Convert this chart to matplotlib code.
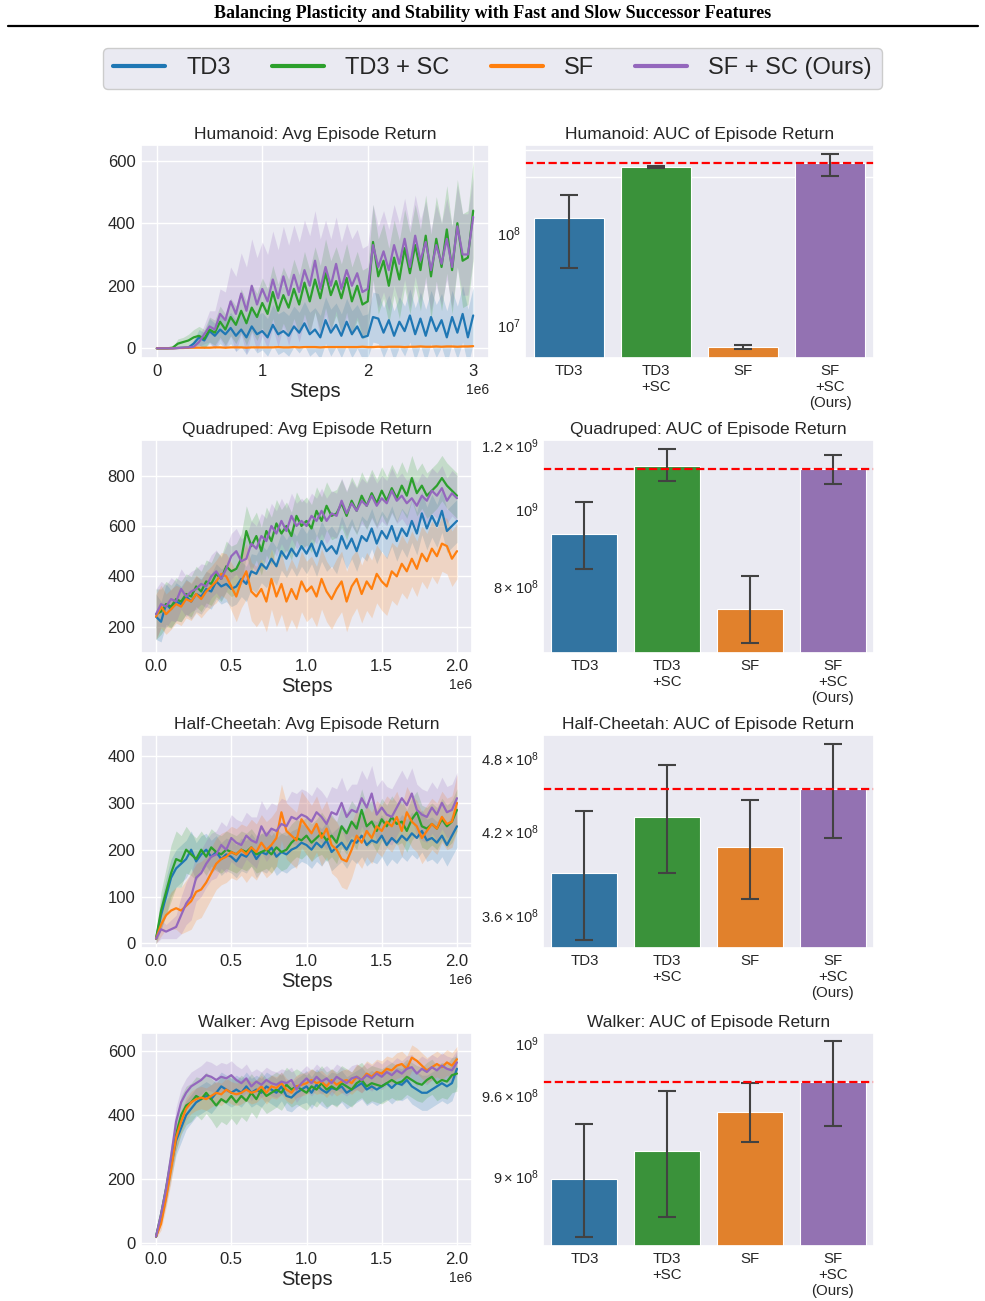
import numpy as np
import seaborn as sns
import matplotlib.pyplot as plt
from matplotlib.lines import Line2D
from matplotlib.ticker import FixedLocator, FixedFormatter, NullFormatter

# ---------------- data ----------------
methods = ['TD3', 'TD3 + SC', 'SF', 'SF + SC (Ours)']
bar_labels = ['TD3', 'TD3\n+SC', 'SF', 'SF\n+SC\n(Ours)']

# Humanoid (0 .. 3e6 steps)
humanoid_td3 = [0, 0, 0, 0, 1, 2, 3, 15, 35, 25,
                55, 40, 60, 45, 65, 40, 60, 35, 70, 45,
                55, 35, 75, 45, 55, 40, 70, 50, 80, 45,
                60, 35, 90, 50, 75, 40, 85, 45, 70, 35,
                40, 100, 95, 50, 90, 40, 85, 55, 105, 45,
                95, 40, 100, 55, 90, 35, 100, 50, 110, 35,
                105]
humanoid_td3_sd = [0, 0, 0, 0, 1, 2, 3, 12, 25, 25,
                   40, 40, 45, 45, 50, 50, 55, 55, 60, 60,
                   60, 60, 65, 65, 65, 65, 65, 65, 70, 70,
                   70, 70, 75, 75, 70, 70, 75, 75, 70, 70,
                   70, 80, 80, 80, 80, 80, 80, 80, 85, 85,
                   85, 85, 85, 85, 85, 85, 85, 85, 90, 90,
                   90]
humanoid_td3_sc = [0, 0, 0, 2, 15, 20, 25, 35, 40, 30,
                   60, 50, 85, 60, 100, 75, 120, 80, 130, 100,
                   145, 110, 180, 120, 170, 130, 190, 140, 210, 150,
                   220, 160, 240, 170, 215, 160, 225, 150, 200, 140,
                   150, 340, 230, 280, 200, 290, 220, 320, 240, 330,
                   250, 360, 230, 350, 260, 380, 250, 400, 280, 290,
                   440]
humanoid_td3_sc_sd = [0, 0, 0, 2, 15, 15, 20, 25, 30, 30,
                      40, 40, 50, 50, 60, 60, 70, 70, 75, 75,
                      80, 80, 85, 85, 90, 90, 95, 95, 100, 100,
                      105, 105, 110, 110, 110, 110, 110, 110, 110, 110,
                      110, 120, 120, 120, 120, 120, 125, 125, 130, 130,
                      130, 130, 135, 135, 140, 140, 140, 140, 150, 150,
                      160]
humanoid_sf = [0, 0, 0, 0, 1, 1, 2, 2, 2, 2,
               2, 3, 3, 2, 3, 3, 3, 2, 3, 3,
               3, 3, 3, 4, 3, 3, 4, 3, 4, 4,
               4, 3, 4, 4, 4, 4, 4, 4, 4, 5,
               4, 4, 5, 4, 5, 5, 5, 4, 5, 5,
               6, 5, 5, 6, 5, 6, 6, 5, 6, 6,
               7]
humanoid_sf_sd = [0, 0, 0, 0, 1, 1, 1, 1, 1, 1,
                  2, 2, 2, 2, 2, 2, 2, 2, 2, 2,
                  2, 2, 2, 2, 2, 2, 2, 2, 2, 2,
                  2, 2, 2, 2, 2, 2, 2, 2, 2, 2,
                  3, 3, 3, 3, 3, 3, 3, 3, 3, 3,
                  3, 3, 3, 3, 3, 3, 3, 3, 3, 3,
                  3]
humanoid_sf_sc = [0, 0, 0, 0, 1, 2, 3, 5, 20, 45,
                  70, 60, 110, 90, 150, 110, 175, 120, 200, 140,
                  190, 150, 220, 160, 230, 170, 235, 180, 250, 200,
                  280, 190, 260, 200, 270, 190, 250, 200, 240, 180,
                  190, 330, 260, 310, 250, 330, 270, 350, 260, 360,
                  280, 340, 250, 330, 270, 350, 260, 390, 300, 300,
                  420]
humanoid_sf_sc_sd = [0, 0, 0, 0, 1, 2, 3, 5, 15, 30,
                     50, 60, 80, 90, 110, 120, 130, 140, 150, 150,
                     150, 150, 155, 155, 160, 160, 160, 160, 160, 160,
                     160, 160, 150, 150, 150, 150, 150, 150, 140, 140,
                     140, 130, 130, 130, 130, 130, 130, 130, 130, 130,
                     130, 130, 130, 130, 130, 130, 130, 130, 130, 130,
                     130]

# Quadruped (0 .. 2e6 steps)
quadruped_td3 = [240, 220, 290, 270, 300, 290, 320, 300, 330, 320,
                 350, 340, 380, 360, 370, 350, 360, 390, 370, 420,
                 410, 450, 430, 470, 440, 500, 470, 510, 480, 520,
                 490, 530, 480, 540, 500, 520, 490, 560, 510, 550,
                 500, 560, 540, 590, 530, 580, 550, 600, 540, 590,
                 560, 620, 570, 650, 590, 640, 600, 660, 580, 600,
                 620]
quadruped_td3_sd = [90, 80, 80, 75, 75, 70, 70, 70, 70, 70,
                    70, 70, 70, 70, 70, 70, 70, 70, 70, 70,
                    75, 75, 75, 75, 75, 75, 75, 75, 80, 80,
                    80, 80, 80, 80, 80, 80, 80, 80, 80, 80,
                    80, 80, 80, 80, 80, 80, 80, 80, 80, 80,
                    85, 85, 85, 85, 85, 85, 85, 85, 85, 85,
                    85]
quadruped_td3_sc = [250, 260, 290, 280, 310, 300, 330, 320, 360, 340,
                    380, 370, 410, 390, 440, 420, 430, 470, 580, 520,
                    560, 500, 580, 540, 610, 570, 600, 560, 640, 600,
                    620, 590, 660, 620, 680, 640, 650, 690, 640, 700,
                    660, 720, 680, 730, 690, 740, 700, 750, 710, 760,
                    720, 790, 730, 760, 720, 740, 760, 790, 760, 740,
                    720]
quadruped_td3_sc_sd = [100, 90, 90, 85, 85, 80, 80, 80, 80, 80,
                       85, 85, 90, 90, 100, 100, 100, 100, 100, 100,
                       95, 95, 95, 95, 95, 95, 95, 95, 95, 95,
                       95, 95, 95, 95, 95, 95, 95, 95, 95, 95,
                       95, 95, 95, 95, 95, 95, 95, 95, 95, 95,
                       90, 90, 90, 90, 90, 90, 90, 90, 90, 90,
                       90]
quadruped_sf = [240, 280, 250, 270, 290, 280, 310, 300, 330, 310,
                340, 360, 380, 410, 400, 360, 320, 380, 420, 340,
                320, 350, 300, 390, 320, 370, 300, 350, 310, 380,
                340, 360, 320, 390, 340, 310, 350, 380, 300, 360,
                390, 330, 380, 350, 410, 380, 360, 420, 400, 450,
                420, 470, 430, 490, 460, 510, 480, 530, 520, 470,
                500]
quadruped_sf_sd = [90, 85, 80, 80, 75, 75, 75, 75, 75, 75,
                   80, 80, 85, 85, 90, 95, 100, 105, 110, 115,
                   120, 120, 120, 120, 120, 120, 120, 120, 120, 120,
                   120, 120, 120, 120, 120, 120, 120, 120, 120, 120,
                   115, 115, 115, 115, 115, 115, 115, 115, 115, 115,
                   110, 110, 110, 110, 110, 110, 110, 110, 110, 110,
                   110]
quadruped_sf_sc = [250, 290, 280, 310, 300, 350, 320, 340, 350, 370,
                   360, 400, 420, 390, 430, 480, 500, 460, 470, 530,
                   510, 560, 540, 600, 570, 620, 580, 640, 600, 620,
                   600, 640, 620, 660, 620, 650, 640, 700, 650, 690,
                   660, 700, 680, 720, 680, 710, 690, 740, 700, 720,
                   690, 710, 680, 720, 700, 740, 720, 750, 700, 730,
                   710]
quadruped_sf_sc_sd = [100, 90, 85, 85, 80, 80, 80, 80, 80, 80,
                      85, 85, 85, 85, 90, 90, 90, 90, 90, 90,
                      90, 90, 90, 90, 90, 90, 90, 90, 90, 90,
                      90, 90, 90, 90, 90, 90, 90, 90, 90, 90,
                      90, 90, 90, 90, 90, 90, 90, 90, 90, 90,
                      90, 90, 90, 90, 90, 90, 90, 90, 90, 90,
                      90]

# Half-Cheetah (0 .. 2e6 steps)
cheetah_td3 = [10, 60, 100, 140, 160, 170, 180, 200, 175, 190,
               200, 185, 195, 180, 190, 185, 175, 190, 185, 200,
               180, 195, 190, 205, 185, 195, 190, 200, 205, 215,
               210, 200, 215, 205, 220, 195, 205, 215, 200, 220,
               215, 230, 210, 220, 215, 230, 210, 225, 215, 230,
               220, 235, 225, 240, 220, 225, 215, 230, 210, 230,
               250]
cheetah_td3_sd = [10, 30, 40, 40, 40, 40, 40, 40, 40, 40,
                  35, 35, 35, 35, 35, 35, 35, 35, 35, 35,
                  40, 40, 40, 40, 40, 40, 40, 40, 40, 40,
                  40, 40, 40, 40, 40, 40, 40, 40, 40, 40,
                  45, 45, 45, 45, 45, 45, 45, 45, 45, 45,
                  45, 45, 45, 45, 45, 45, 45, 45, 45, 45,
                  45]
cheetah_td3_sc = [10, 70, 110, 150, 180, 175, 200, 190, 180, 200,
                  185, 205, 195, 190, 200, 195, 190, 200, 195, 205,
                  190, 195, 200, 190, 205, 195, 200, 215, 225, 220,
                  230, 215, 225, 235, 220, 230, 215, 250, 235, 260,
                  245, 285, 250, 260, 240, 265, 250, 270, 255, 260,
                  240, 265, 280, 250, 245, 255, 245, 265, 250, 260,
                  285]
cheetah_td3_sc_sd = [10, 40, 50, 60, 60, 55, 50, 45, 45, 40,
                     40, 40, 40, 40, 40, 40, 40, 40, 40, 40,
                     40, 40, 40, 40, 40, 40, 40, 40, 40, 40,
                     40, 40, 40, 45, 45, 45, 45, 45, 45, 45,
                     45, 45, 45, 45, 45, 45, 45, 45, 45, 45,
                     45, 45, 45, 45, 45, 45, 45, 45, 45, 45,
                     45]
cheetah_sf = [10, 40, 60, 70, 75, 70, 80, 90, 110, 115,
              130, 150, 170, 180, 185, 195, 190, 200, 190, 205,
              195, 215, 200, 210, 225, 280, 240, 230, 220, 265,
              250, 235, 255, 225, 245, 210, 200, 180, 175, 200,
              230, 215, 240, 225, 250, 240, 260, 250, 270, 240,
              280, 260, 250, 225, 240, 255, 245, 270, 255, 260,
              300]
cheetah_sf_sd = [10, 25, 30, 40, 45, 50, 55, 60, 60, 60,
                 55, 55, 55, 55, 55, 55, 55, 55, 60, 60,
                 60, 60, 60, 60, 60, 60, 60, 60, 60, 60,
                 60, 60, 60, 60, 60, 60, 60, 60, 60, 60,
                 55, 55, 55, 55, 55, 55, 55, 55, 55, 55,
                 55, 55, 55, 55, 55, 55, 55, 55, 55, 55,
                 60]
cheetah_sf_sc = [10, 30, 25, 30, 35, 60, 85, 100, 140, 150,
                 170, 185, 190, 210, 200, 225, 215, 210, 230, 220,
                 215, 250, 230, 245, 240, 255, 250, 270, 265, 275,
                 270, 260, 280, 270, 255, 280, 275, 300, 270, 285,
                 280, 310, 290, 320, 275, 290, 275, 270, 290, 310,
                 295, 320, 285, 275, 270, 290, 275, 300, 280, 285,
                 310]
cheetah_sf_sc_sd = [10, 20, 15, 20, 25, 40, 45, 50, 50, 50,
                    50, 50, 50, 50, 50, 50, 50, 50, 50, 50,
                    55, 55, 55, 55, 55, 55, 55, 55, 55, 55,
                    55, 55, 55, 55, 55, 55, 55, 55, 55, 55,
                    60, 60, 60, 60, 60, 60, 60, 60, 60, 60,
                    55, 55, 55, 55, 55, 55, 55, 55, 55, 55,
                    55]

# Walker (0 .. 2e6 steps)
walker_td3 = [20, 80, 150, 240, 320, 360, 400, 420, 440, 450,
              460, 450, 470, 490, 480, 470, 480, 470, 490, 470,
              480, 470, 490, 480, 470, 490, 460, 455, 470, 480,
              490, 470, 495, 480, 470, 485, 480, 490, 470, 480,
              490, 500, 480, 490, 480, 490, 500, 485, 500, 495,
              510, 490, 480, 470, 470, 480, 490, 500, 490, 500,
              545]
walker_td3_sd = [5, 20, 30, 40, 45, 45, 45, 45, 45, 45,
                 45, 45, 45, 45, 45, 45, 45, 45, 45, 45,
                 45, 45, 45, 45, 45, 45, 45, 45, 45, 45,
                 50, 50, 50, 50, 50, 50, 50, 50, 50, 50,
                 50, 50, 50, 50, 50, 50, 50, 50, 50, 50,
                 55, 55, 55, 55, 55, 55, 55, 55, 55, 55,
                 55]
walker_td3_sc = [20, 90, 170, 260, 340, 400, 430, 440, 460, 450,
                 470, 450, 430, 450, 440, 460, 440, 460, 445, 470,
                 450, 480, 460, 470, 480, 470, 495, 480, 490, 480,
                 470, 490, 480, 500, 480, 490, 480, 500, 490, 480,
                 500, 510, 490, 500, 495, 490, 500, 510, 500, 505,
                 520, 510, 500, 495, 510, 520, 500, 510, 505, 525,
                 530]
walker_td3_sc_sd = [5, 25, 35, 45, 50, 60, 60, 60, 60, 65,
                    65, 65, 70, 70, 70, 70, 70, 65, 65, 60,
                    60, 55, 55, 55, 55, 55, 55, 55, 55, 55,
                    55, 55, 55, 55, 55, 55, 55, 55, 55, 55,
                    55, 55, 55, 55, 55, 55, 55, 55, 55, 55,
                    55, 55, 55, 55, 55, 55, 55, 55, 55, 55,
                    55]
walker_sf = [20, 60, 140, 230, 330, 380, 420, 440, 450, 455,
             450, 460, 470, 465, 480, 470, 465, 470, 480, 470,
             475, 490, 470, 490, 485, 500, 480, 470, 490, 495,
             500, 510, 500, 505, 490, 510, 495, 505, 510, 500,
             520, 510, 530, 520, 535, 530, 545, 540, 555, 560,
             545, 580, 570, 555, 540, 550, 560, 550, 565, 555,
             575]
walker_sf_sd = [5, 20, 30, 40, 40, 35, 35, 35, 35, 35,
                35, 35, 35, 35, 35, 35, 35, 35, 35, 35,
                35, 35, 35, 35, 35, 35, 35, 35, 35, 35,
                35, 35, 35, 35, 35, 35, 35, 35, 35, 35,
                40, 40, 40, 40, 40, 40, 40, 40, 40, 40,
                40, 40, 40, 40, 40, 40, 40, 40, 40, 40,
                40]
walker_sf_sc = [20, 90, 170, 270, 380, 440, 470, 490, 500, 510,
                525, 520, 510, 520, 515, 525, 510, 500, 515, 490,
                505, 495, 510, 500, 495, 505, 500, 510, 480, 500,
                515, 500, 520, 505, 515, 500, 520, 510, 500, 515,
                520, 510, 525, 515, 530, 520, 535, 525, 540, 530,
                545, 550, 530, 545, 535, 550, 540, 555, 545, 540,
                565]
walker_sf_sc_sd = [5, 25, 35, 40, 45, 45, 45, 45, 45, 45,
                   45, 45, 45, 45, 45, 45, 45, 45, 45, 45,
                   40, 40, 40, 40, 40, 40, 40, 40, 40, 40,
                   40, 40, 40, 40, 40, 40, 40, 40, 40, 40,
                   40, 40, 40, 40, 40, 40, 40, 40, 40, 40,
                   40, 40, 40, 40, 40, 40, 40, 40, 40, 40,
                   40]

# AUC bars: mean, lower and upper end of the error bar
humanoid_auc = [1.45e8, 5.18e8, 5.69e6, 5.75e8]
humanoid_auc_lo = [4.18e7, 5.10e8, 5.50e6, 4.17e8]
humanoid_auc_hi = [2.55e8, 5.30e8, 6.00e6, 7.27e8]
quadruped_auc = [9.30e8, 1.132e9, 7.49e8, 1.122e9]
quadruped_auc_lo = [8.41e8, 1.083e9, 6.79e8, 1.075e9]
quadruped_auc_hi = [1.021e9, 1.187e9, 8.23e8, 1.167e9]
cheetah_auc = [3.89e8, 4.31e8, 4.08e8, 4.54e8]
cheetah_auc_lo = [3.44e8, 3.89e8, 3.71e8, 4.15e8]
cheetah_auc_hi = [4.36e8, 4.74e8, 4.45e8, 4.93e8]
walker_auc = [8.98e8, 9.18e8, 9.47e8, 9.70e8]
walker_auc_lo = [8.58e8, 8.72e8, 9.25e8, 9.37e8]
walker_auc_hi = [9.38e8, 9.63e8, 9.69e8, 1.002e9]

# ---------------- style ----------------
sns.set_theme(style='darkgrid')
plt.rcParams['font.family'] = ['Liberation Sans', 'DejaVu Sans']

line_colors = ['#1f77b4', '#2ca02c', '#ff7f0e', '#9467bd']
bar_colors = ['#3274a1', '#3a923a', '#e1812c', '#9372b2']

W, H = 985, 1301
fig = plt.figure(figsize=(W / 100, H / 100), dpi=100)


def box(x0, x1, y0, y1):
    return [x0 / W, 1 - y1 / H, (x1 - x0) / W, (y1 - y0) / H]


fig.text(0.5, 1 - 13 / H,
         'Balancing Plasticity and Stability with Fast and Slow Successor Features',
         ha='center', va='center', family='Liberation Serif', weight='bold',
         fontsize=13, color='black')
fig.add_artist(Line2D([8 / W, 978 / W], [1 - 26 / H, 1 - 26 / H],
                      color='black', lw=1.6))

envs = [
    dict(name='Humanoid', steps=3e6,
         curves=[humanoid_td3, humanoid_td3_sc, humanoid_sf, humanoid_sf_sc],
         sds=[humanoid_td3_sd, humanoid_td3_sc_sd, humanoid_sf_sd, humanoid_sf_sc_sd],
         ylim=(-31, 650), yticks=[0, 200, 400, 600],
         auc=humanoid_auc, lo=humanoid_auc_lo, hi=humanoid_auc_hi,
         blim=(4.36e6, 9.0e8),
         bticks=[1e7, 1e8],
         blabels=[r'$\mathdefault{10^{7}}$', r'$\mathdefault{10^{8}}$'],
         bgrid=[4e8, 8e8],
         left=(141, 489), right=(525, 874)),
    dict(name='Quadruped', steps=2e6,
         curves=[quadruped_td3, quadruped_td3_sc, quadruped_sf, quadruped_sf_sc],
         sds=[quadruped_td3_sd, quadruped_td3_sc_sd, quadruped_sf_sd, quadruped_sf_sc_sd],
         ylim=(96, 941), yticks=[200, 400, 600, 800],
         auc=quadruped_auc, lo=quadruped_auc_lo, hi=quadruped_auc_hi,
         blim=(6.6e8, 1.219e9),
         bticks=[8e8, 1e9, 1.2e9],
         blabels=[r'$\mathdefault{8\times10^{8}}$', r'$\mathdefault{10^{9}}$',
                  r'$\mathdefault{1.2\times10^{9}}$'],
         bgrid=[8e8, 1e9, 1.2e9],
         left=(141, 472), right=(543, 874)),
    dict(name='Half-Cheetah', steps=2e6,
         curves=[cheetah_td3, cheetah_td3_sc, cheetah_sf, cheetah_sf_sc],
         sds=[cheetah_td3_sd, cheetah_td3_sc_sd, cheetah_sf_sd, cheetah_sf_sc_sd],
         ylim=(-10, 445), yticks=[0, 100, 200, 300, 400],
         auc=cheetah_auc, lo=cheetah_auc_lo, hi=cheetah_auc_hi,
         blim=(3.39e8, 5.01e8),
         bticks=[3.6e8, 4.2e8, 4.8e8],
         blabels=[r'$\mathdefault{3.6\times10^{8}}$', r'$\mathdefault{4.2\times10^{8}}$',
                  r'$\mathdefault{4.8\times10^{8}}$'],
         bgrid=[3.6e8, 4.2e8, 4.8e8],
         left=(141, 472), right=(543, 874)),
    dict(name='Walker', steps=2e6,
         curves=[walker_td3, walker_td3_sc, walker_sf, walker_sf_sc],
         sds=[walker_td3_sd, walker_td3_sc_sd, walker_sf_sd, walker_sf_sc_sd],
         ylim=(-9.5, 657), yticks=[0, 200, 400, 600],
         auc=walker_auc, lo=walker_auc_lo, hi=walker_auc_hi,
         blim=(8.52e8, 1.008e9),
         bticks=[9e8, 9.6e8, 1e9],
         blabels=[r'$\mathdefault{9\times10^{8}}$', r'$\mathdefault{9.6\times10^{8}}$',
                  r'$\mathdefault{10^{9}}$'],
         bgrid=[9e8, 9.6e8],
         left=(141, 472), right=(543, 874)),
]

row_tops = [145, 440, 735, 1033]
row_h = 213

for env, top in zip(envs, row_tops):
    # ---- learning curves ----
    ax = fig.add_axes(box(env['left'][0], env['left'][1], top, top + row_h))
    for vals, sd, c, lab in zip(env['curves'], env['sds'], line_colors, methods):
        vals = np.array(vals, dtype=float)
        sd = np.array(sd, dtype=float)
        x = np.linspace(0, env['steps'], len(vals))
        ax.fill_between(x, vals - sd, vals + sd, color=c, alpha=0.2, lw=0)
        ax.plot(x, vals, color=c, lw=1.6, label=lab)
    ax.set_ylim(*env['ylim'])
    ax.set_yticks(env['yticks'])
    ax.tick_params(labelsize=12, colors='.15', length=0, pad=4)
    ax.xaxis.get_offset_text().set_fontsize(10)
    ax.set_xlabel('Steps', fontsize=14.5, labelpad=2.5)
    ax.set_title(f"{env['name']}: Avg Episode Return", fontsize=12.5, pad=4)

    # ---- AUC bars ----
    bx = fig.add_axes(box(env['right'][0], env['right'][1], top, top + row_h))
    bx.set_yscale('log', nonpositive='clip')
    means = np.array(env['auc'])
    pos = np.arange(len(means))
    bx.bar(pos, means, width=0.8, color=bar_colors, edgecolor='white', lw=0.8)
    bx.errorbar(pos, means, yerr=[means - np.array(env['lo']), np.array(env['hi']) - means],
                fmt='none', ecolor='#424242', elinewidth=1.5, capsize=6.5, capthick=1.5)
    bx.axhline(means[-1], color='red', ls='--', lw=1.6)
    bx.set_xlim(-0.5, len(means) - 0.5)
    bx.set_ylim(*env['blim'])
    bx.set_xticks(pos)
    bx.set_xticklabels(bar_labels, fontsize=10.8, linespacing=1.2)
    bx.yaxis.set_major_locator(FixedLocator(env['bticks']))
    bx.yaxis.set_major_formatter(FixedFormatter(env['blabels']))
    bx.yaxis.set_minor_locator(FixedLocator(env['bgrid']))
    bx.yaxis.set_minor_formatter(NullFormatter())
    bx.grid(False, axis='x')
    bx.grid(False, which='major', axis='y')
    bx.grid(True, which='minor', axis='y', color='white', lw=1.0)
    bx.tick_params(axis='y', labelsize=10.5, colors='.15', length=0, pad=3)
    bx.tick_params(axis='x', colors='.15', length=0, pad=4)
    bx.tick_params(which='minor', length=0)
    bx.set_axisbelow(True)
    bx.set_title(f"{env['name']}: AUC of Episode Return", fontsize=12.5, pad=4)

handles = [Line2D([0], [0], color=c, lw=3) for c in line_colors]
leg = fig.legend(handles, methods, loc='upper center', bbox_to_anchor=(0.5, 1 - 48 / H),
                 ncol=4, fontsize=17, frameon=True, handlelength=2.2, borderaxespad=0,
                 columnspacing=1.75, handletextpad=0.9, borderpad=0.4)
leg.get_frame().set_facecolor('#eaeaf2')
leg.get_frame().set_edgecolor('#cccccc')
leg.get_frame().set_alpha(1.0)

fig.savefig('out.png', dpi=100)
